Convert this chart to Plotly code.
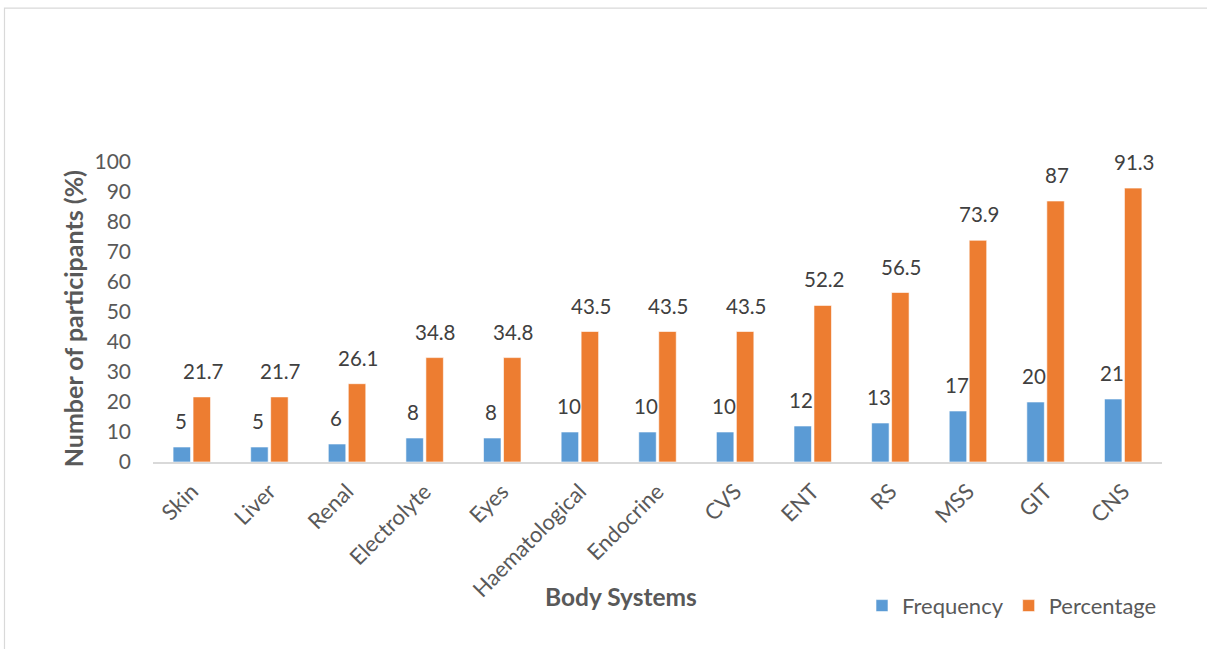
import plotly.graph_objects as go

# Body systems and participant counts
systems = ["Skin", "Liver", "Renal", "Electrolyte", "Eyes", "Haematological",
           "Endocrine", "CVS", "ENT", "RS", "MSS", "GIT", "CNS"]
frequency = [5, 5, 6, 8, 8, 10, 10, 10, 12, 13, 17, 20, 21]
percentage = [21.7, 21.7, 26.1, 34.8, 34.8, 43.5, 43.5, 43.5, 52.2, 56.5, 73.9, 87, 91.3]

BLUE = "#5B9BD5"
ORANGE = "#ED7D31"
FONT = "Lato"
W, H = 1207, 649
L, R, T, B = 153, 45, 161.6, 187
PW, PH = W - L - R, H - T - B

fig = go.Figure()
fig.add_trace(go.Bar(x=systems, y=frequency, name="Frequency",
                     marker=dict(color=BLUE, line=dict(color="#ffffff", width=0.6))))
fig.add_trace(go.Bar(x=systems, y=percentage, name="Percentage",
                     marker=dict(color=ORANGE, line=dict(color="#ffffff", width=0.6))))

# value labels above each bar
annotations = []
for vals, dx in ((frequency, -11.3), (percentage, 11.3)):
    for s, v in zip(systems, vals):
        annotations.append(dict(x=s, y=v, xref="x", yref="y", text=f"{v:g}",
                                showarrow=False, xshift=dx, yanchor="bottom", yshift=12,
                                font=dict(family=FONT, size=20.5, color="#404040")))

# axis titles
annotations.append(dict(x=(73 - L) / PW, y=(H - B - 319) / PH, xref="paper", yref="paper",
                        text="<b>Number of participants (%)</b>", textangle=-90,
                        showarrow=False, xanchor="center", yanchor="middle",
                        font=dict(family=FONT, size=25, color="#595959")))
annotations.append(dict(x=(621 - L) / PW, y=(H - B - 597) / PH, xref="paper", yref="paper",
                        text="<b>Body Systems</b>", showarrow=False,
                        xanchor="center", yanchor="middle",
                        font=dict(family=FONT, size=24.5, color="#595959")))

fig.update_layout(
    width=W, height=H,
    margin=dict(l=L, r=R, t=T, b=B),
    paper_bgcolor="white", plot_bgcolor="white",
    barmode="group", bargap=0.485, bargroupgap=0.125,
    font=dict(family=FONT, color="#595959"),
    showlegend=True,
    legend=dict(orientation="h", x=(1162 - L) / PW, xanchor="right",
                y=(H - B - 606) / PH, yanchor="middle",
                font=dict(family=FONT, size=22, color="#595959"),
                bgcolor="rgba(0,0,0,0)"),
    annotations=annotations,
    shapes=[dict(type="rect", xref="paper", yref="paper",
                 x0=(4.5 - L) / PW, x1=(W + 10 - L) / PW,
                 y0=(H - B - (H + 10)) / PH, y1=(H - B - 7.5) / PH,
                 line=dict(color="#D9D9D9", width=1.2), fillcolor="rgba(0,0,0,0)",
                 layer="below")],
)
fig.update_xaxes(showline=True, linecolor="#D9D9D9", linewidth=2, showgrid=False,
                 ticks="", tickangle=-45, ticklabelstandoff=6,
                 tickfont=dict(family=FONT, size=22, color="#595959"))
fig.update_yaxes(range=[0, 100], dtick=10, showgrid=False, showline=False,
                 zeroline=False, ticks="", ticklabelstandoff=21,
                 tickfont=dict(family=FONT, size=21, color="#595959"))

fig.write_html("out.html")
